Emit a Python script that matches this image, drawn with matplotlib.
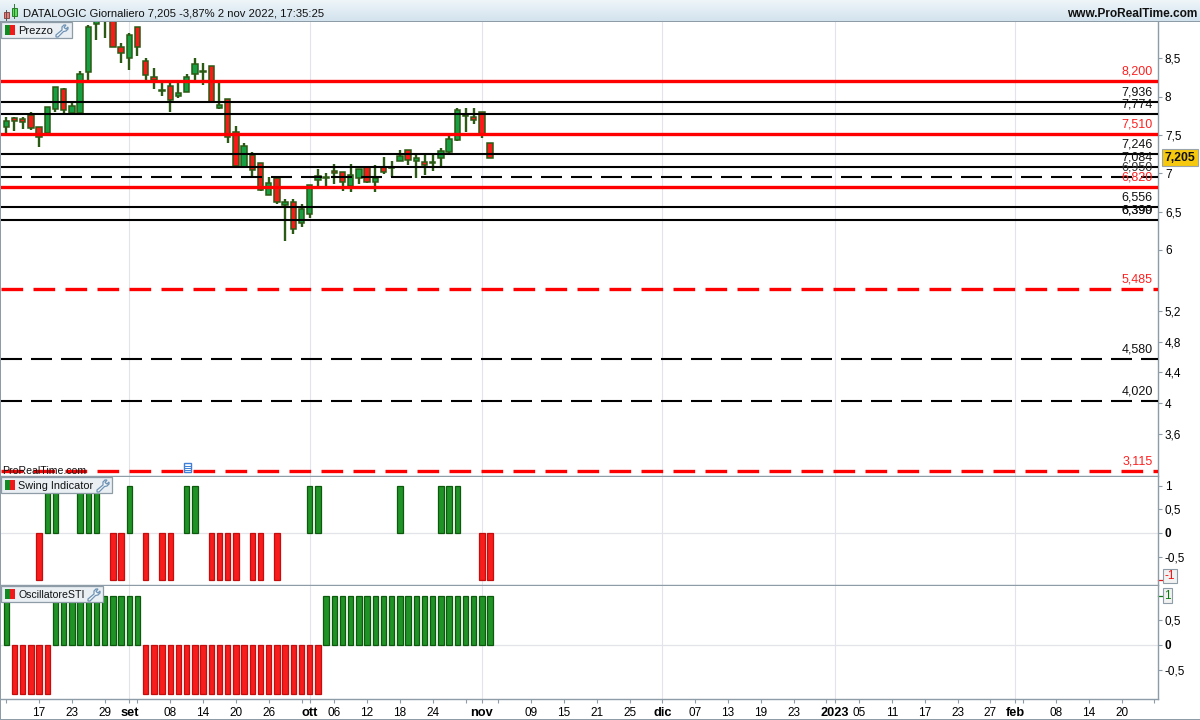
import numpy as np
import matplotlib
matplotlib.use('Agg')
import matplotlib.pyplot as plt
from matplotlib.patches import Rectangle, Polygon
from matplotlib.lines import Line2D

plt.rcParams['font.family'] = ['Liberation Sans', 'DejaVu Sans']
plt.rcParams['lines.scale_dashes'] = False

# daily candles (bars 11-13 run off the top of the panel)
opens = [7.60, 7.717, 7.704, 7.76, 7.60, 7.521, 7.843, 8.096, 7.791, 7.791,
         8.318, 8.949, 9.10, 9.10, 8.653, 8.509, 8.905, 8.465, 8.252, 8.069,
         8.139, 8.013, 8.056, 8.30, 8.318, 8.396, 7.856, 7.974, 7.543, 7.086,
         7.238, 7.129, 6.72, 6.934, 6.59, 6.62, 6.355, 6.472, 6.916, 6.934,
         7.025, 7.012, 6.838, 6.942, 7.077, 6.881, 7.077, 7.064, 7.164, 7.299,
         7.164, 7.142, 7.134, 7.203, 7.277, 7.438, 7.743, 7.739, 7.795, 7.391]
highs = [7.73, 7.73, 7.73, 7.795, 7.60, 7.861, 8.122, 8.109, 7.935, 8.331,
         8.935, 9.15, 9.15, 9.15, 8.696, 8.827, 8.905, 8.50, 8.37, 8.174,
         8.174, 8.174, 8.296, 8.505, 8.435, 8.396, 8.174, 7.974, 7.612, 7.391,
         7.277, 7.129, 6.947, 6.947, 6.659, 6.659, 6.594, 6.842, 7.051, 6.999,
         7.121, 7.012, 7.121, 7.051, 7.077, 7.103, 7.208, 7.16, 7.299, 7.299,
         7.238, 7.238, 7.238, 7.325, 7.486, 7.847, 7.847, 7.847, 7.795, 7.391]
lows = [7.53, 7.556, 7.582, 7.569, 7.347, 7.521, 7.804, 7.782, 7.791, 7.791,
        8.217, 8.74, 8.77, 8.653, 8.444, 8.352, 8.535, 8.217, 8.104, 8.009,
        7.804, 7.987, 8.056, 8.217, 8.156, 7.921, 7.843, 7.399, 7.099, 7.086,
        6.964, 6.772, 6.72, 6.598, 6.12, 6.207, 6.303, 6.416, 6.825, 6.825,
        6.86, 6.772, 6.759, 6.86, 6.868, 6.759, 6.99, 6.947, 7.164, 7.108,
        6.938, 6.977, 7.029, 7.09, 7.26, 7.425, 7.538, 7.643, 7.465, 7.205]
closes = [7.686, 7.678, 7.665, 7.595, 7.469, 7.861, 8.122, 7.821, 7.874, 8.291,
          8.905, 9.05, 9.00, 8.653, 8.566, 8.805, 8.644, 8.287, 8.217, 8.087,
          7.952, 8.043, 8.252, 8.422, 8.331, 7.93, 7.887, 7.469, 7.099, 7.356,
          7.038, 6.781, 6.868, 6.629, 6.62, 6.276, 6.529, 6.842, 6.964, 6.947,
          6.999, 6.881, 6.973, 7.051, 6.881, 6.934, 7.012, 7.077, 7.221, 7.169,
          7.195, 7.103, 7.147, 7.286, 7.443, 7.821, 7.76, 7.691, 7.508, 7.205]

swing = [0, 0, 0, 0, -1, 1, 1, 0, 0, 1, 1, 1, 0, -1, -1, 1, 0, -1, 0, -1,
         -1, 0, 1, 1, 0, -1, -1, -1, -1, 0, -1, -1, 0, -1, 0, 0, 0, 1, 1, 0,
         0, 0, 0, 0, 0, 0, 0, 0, 1, 0, 0, 0, 0, 1, 1, 1, 0, 0, -1, -1]
sti = [1, -1, -1, -1, -1, -1, 1, 1, 1, 1, 1, 1, 1, 1, 1, 1, 1, -1, -1, -1,
       -1, -1, -1, -1, -1, -1, -1, -1, -1, -1, -1, -1, -1, -1, -1, -1, -1, -1, -1, 1,
       1, 1, 1, 1, 1, 1, 1, 1, 1, 1, 1, 1, 1, 1, 1, 1, 1, 1, 1, 1]

# level, label, colour, dashed
red_solid = [8.2, 7.51, 6.82]
black_solid = [7.936, 7.774, 7.246, 7.084, 6.556, 6.39]
red_dashed = [5.485, 3.115]
black_dashed = [6.95, 4.58, 4.02]
level_labels = [(8.2, '8,200', '#ff2020'), (7.936, '7,936', '#111111'), (7.774, '7,774', '#111111'),
                (7.51, '7,510', '#ff2020'), (7.246, '7,246', '#111111'), (7.084, '7,084', '#111111'),
                (6.95, '6,950', '#333333'), (6.82, '6,820', '#ff2020'), (6.556, '6,556', '#111111'),
                (6.39, '6,390', '#111111'), (6.39, '6,399', '#111111'), (5.485, '5,485', '#ff2020'),
                (4.58, '4,580', '#111111'), (4.02, '4,020', '#111111'), (3.115, '3,115', '#ff2020')]

price_ticks = [8.5, 8, 7.5, 7, 6.5, 6, 5.2, 4.8, 4.4, 4, 3.6]

# bar number -> label on the time axis, months in bold
day_ticks = {4: '17', 8: '23', 12: '29', 16: '', 20: '08', 24: '14', 28: '20', 32: '26', 36: '',
             40: '06', 44: '12', 48: '18', 52: '24', 56: '', 60: '', 64: '09', 68: '15', 72: '21',
             76: '25', 84: '07', 88: '13', 92: '19', 96: '23', 100: '', 104: '05', 108: '11',
             112: '17', 116: '23', 120: '27', 124: '', 128: '08', 132: '14', 136: '20', 140: '', 0: ''}
month_ticks = {15: 'set', 37: 'ott', 58: 'nov', 80: 'dic', 101: '2023', 123: 'feb'}

W, H = 1200, 720
AXIS_GREY = '#8d9ca6'
GRID = '#e3e3ea'
WICK = '#2b5a14'
UP = '#17a043'
DOWN = '#fb1a1a'
BAR_UP = '#1f9325'
BAR_UP_EDGE = '#0c5a0c'
BAR_DOWN = '#f81c1c'
BAR_DOWN_EDGE = '#c40d0d'

fig = plt.figure(figsize=(W / 100, H / 100), dpi=100, facecolor='white')


def panel(top, bottom, ylim):
    ax = fig.add_axes([1 / W, 1 - bottom / H, 1157 / W, (bottom - top) / H])
    ax.set_xlim(-0.646, 140.45)
    ax.set_ylim(*ylim)
    ax.yaxis.tick_right()
    for s in ['top', 'left']:
        ax.spines[s].set_visible(False)
    for s in ['right', 'bottom']:
        ax.spines[s].set_color(AXIS_GREY)
        ax.spines[s].set_linewidth(1.0)
    ax.tick_params(axis='y', length=3, width=0.8, color=AXIS_GREY, labelsize=8.5, pad=2)
    ax.set_xticks([])
    for m in month_ticks:
        ax.axvline(m, color=GRID, lw=0.8, zorder=0)
    return ax


def comma(v):
    return f'{v:g}'.replace('.', ',')


def px_rect(x0, y0, x1, y1, fc, ec='none', lw=0.8, z=10):
    fig.add_artist(Rectangle((x0 / W, 1 - y1 / H), (x1 - x0) / W, (y1 - y0) / H, transform=fig.transFigure,
                             facecolor=fc, edgecolor=ec, linewidth=lw, zorder=z))


def wrench(x, y):
    shape = [(0, 10), (6, 5), (6, 2), (8, 0), (10, 0), (8, 2.5), (10, 4), (12, 2), (12, 4), (10, 6),
             (7.5, 6.5), (2, 12), (0, 12)]
    pts = [((x + a) / W, 1 - (y + b) / H) for a, b in shape]
    fig.add_artist(Polygon(pts, closed=True, transform=fig.transFigure, facecolor='#f4f7f9',
                           edgecolor='#6f93b5', linewidth=0.9, zorder=12))


def badge(x1, y0, name, wrench_x, size=8):
    px_rect(0.5, y0, x1, y0 + 16, '#e9eff3', AXIS_GREY, 0.9)
    px_rect(5, y0 + 3, 10, y0 + 13, '#118a22', z=11)
    px_rect(10, y0 + 3, 15, y0 + 13, '#f01818', z=11)
    fig.text(18.5 / W, 1 - (y0 + 12) / H, name, fontsize=size, color='#111111', va='baseline', zorder=12)
    wrench(wrench_x, y0 + 3)


def signal_bars(ax, xs, values):
    # flat days have no bar at all
    keep = values != 0
    ax.bar(xs[keep], values[keep], width=0.68, color=[BAR_UP if v > 0 else BAR_DOWN for v in values[keep]],
           edgecolor=[BAR_UP_EDGE if v > 0 else BAR_DOWN_EDGE for v in values[keep]], linewidth=0.9, zorder=3)


# price panel
ax1 = panel(22, 476, (3.047, 8.974))
x = np.arange(len(opens))
o = np.array(opens)
c = np.array(closes)
colors = [UP if b >= a else DOWN for a, b in zip(opens, closes)]
ax1.vlines(x, lows, highs, color=WICK, lw=1.7, zorder=2)
ax1.bar(x, np.abs(c - o), bottom=np.minimum(o, c), width=0.68, color=colors, edgecolor=WICK, linewidth=1.1, zorder=3)

for v in red_solid:
    ax1.axhline(v, color='#ff0000', lw=2.4, zorder=4)
for v in black_solid:
    ax1.axhline(v, color='#000000', lw=1.5, zorder=4)
for v in black_dashed:
    ax1.axhline(v, color='#000000', lw=1.5, linestyle=(0, (15.12, 6.48)), dash_capstyle='butt', zorder=4)
for v in red_dashed:
    ax1.axhline(v, color='#ff0000', lw=2.4, linestyle=(0, (15.6, 7.44)), dash_capstyle='butt', zorder=4)

for v, t, col in level_labels:
    ax1.annotate(t, xy=(1, v), xycoords=('axes fraction', 'data'), xytext=(-5, 6.5), textcoords='offset pixels',
                 ha='right', va='baseline', fontsize=9, color=col, zorder=6)

ax1.set_yticks(price_ticks)
ax1.set_yticklabels([comma(v) for v in price_ticks])

ax1.annotate('7,205', xy=(1, 7.205), xycoords=('axes fraction', 'data'), xytext=(22, 0), textcoords='offset pixels',
             ha='center', va='center', fontsize=8.8, fontweight='bold', color='#111111', annotation_clip=False,
             bbox=dict(boxstyle='square,pad=0.22', fc='#f6c90e', ec='#9aa4aa', lw=0.8), zorder=8)

# swing indicator
ax2 = panel(477, 585, (-1.106, 1.191))
ax2.axhline(0, color=GRID, lw=0.9, zorder=0)
signal_bars(ax2, x, np.array(swing))
ax2.set_yticks([1, 0.5, 0, -0.5])
ax2.set_yticklabels(['1', '0,5', '0', '-0,5'])
ax2.get_yticklabels()[2].set_fontweight('bold')
ax2.plot([1, 1.0035], [-1, -1], color='#e81010', lw=0.9, transform=ax2.get_yaxis_transform(), clip_on=False)
ax2.annotate('-1', xy=(1, -1), xycoords=('axes fraction', 'data'), xytext=(12, 4), textcoords='offset pixels',
             ha='center', va='center', fontsize=8.5, color='#f01010', annotation_clip=False,
             bbox=dict(boxstyle='square,pad=0.12', fc='#f2f2f2', ec=AXIS_GREY, lw=0.8), zorder=8)

# oscillator
ax3 = panel(586, 699, (-1.10, 1.20))
ax3.axhline(0, color=GRID, lw=0.9, zorder=0)
signal_bars(ax3, x, np.array(sti))
ax3.set_yticks([0.5, 0, -0.5])
ax3.set_yticklabels(['0,5', '0', '-0,5'])
ax3.get_yticklabels()[1].set_fontweight('bold')
ax3.plot([1, 1.0035], [1, 1], color='#0c7a0c', lw=0.9, transform=ax3.get_yaxis_transform(), clip_on=False)
ax3.annotate('1', xy=(1, 1), xycoords=('axes fraction', 'data'), xytext=(9.5, 0), textcoords='offset pixels',
             ha='center', va='center', fontsize=8.5, color='#0c7a0c', annotation_clip=False,
             bbox=dict(boxstyle='square,pad=0.12', fc='#f2f2f2', ec=AXIS_GREY, lw=0.8), zorder=8)

all_ticks = {**day_ticks, **month_ticks}
pos = sorted(all_ticks)
ax3.set_xticks(pos)
ax3.set_xticklabels([all_ticks[p] for p in pos], fontsize=8.5)
ax3.tick_params(axis='x', length=3, width=0.8, color=AXIS_GREY, pad=3)
for lab, p in zip(ax3.get_xticklabels(), pos):
    if p in month_ticks:
        lab.set_fontweight('bold')
        lab.set_fontsize(9.2)

# header bar
head = fig.add_axes([0, 1 - 21 / H, 1, 21 / H], zorder=9)
head.imshow(np.linspace(0, 1, 21).reshape(-1, 1), aspect='auto', cmap=matplotlib.colors.LinearSegmentedColormap.from_list(
    'head', ['#eef5f9', '#d3e3ee']))
head.axis('off')
px_rect(0, 21, W, 22, AXIS_GREY)
px_rect(3.5, 12, 9, 17.5, '#f47a7a', '#8a4a4a', 0.7)
fig.add_artist(Line2D([6.3 / W] * 2, [1 - 9.5 / H, 1 - 19.5 / H], color='#555555', lw=0.7, zorder=10))
px_rect(11.5, 7.5, 17, 15.5, '#5be25b', '#2e7a2e', 0.7)
fig.add_artist(Line2D([14.3 / W] * 2, [1 - 4 / H, 1 - 18 / H], color='#2e7a2e', lw=0.7, zorder=10))
fig.text(23 / W, 1 - 16.7 / H, 'DATALOGIC Giornaliero 7,205 -3,87% 2 nov 2022, 17:35:25', fontsize=8.15,
         color='#111111', va='baseline', zorder=12)
fig.text(1197 / W, 1 - 16.7 / H, 'www.ProRealTime.com', fontsize=8.55, fontweight='bold', color='#111111', ha='right',
         va='baseline', zorder=12)

badge(71.5, 22, 'Prezzo', 56)
badge(112, 477, 'Swing Indicator', 97, 7.8)
badge(103, 586, 'OscillatoreSTI', 88, 7.6)

fig.text(2 / W, 1 - 473.5 / H, 'ProRealTime.com', fontsize=7.55, color='#111111', va='baseline', zorder=12)

# note icon on the last red level
px_rect(183.5, 462.5, 191.5, 471.5, 'white', '#3f7fd6', 1.0, z=12)
for yy in (465.5, 467.5, 469.5):
    fig.add_artist(Line2D([185 / W, 190 / W], [1 - yy / H] * 2, color='#3f7fd6', lw=0.7, zorder=13))

# outer frame
px_rect(0, 22, 1, 720, AXIS_GREY)
px_rect(0, 719, W, 720, AXIS_GREY)

fig.savefig('out.png', dpi=100, facecolor='white')
